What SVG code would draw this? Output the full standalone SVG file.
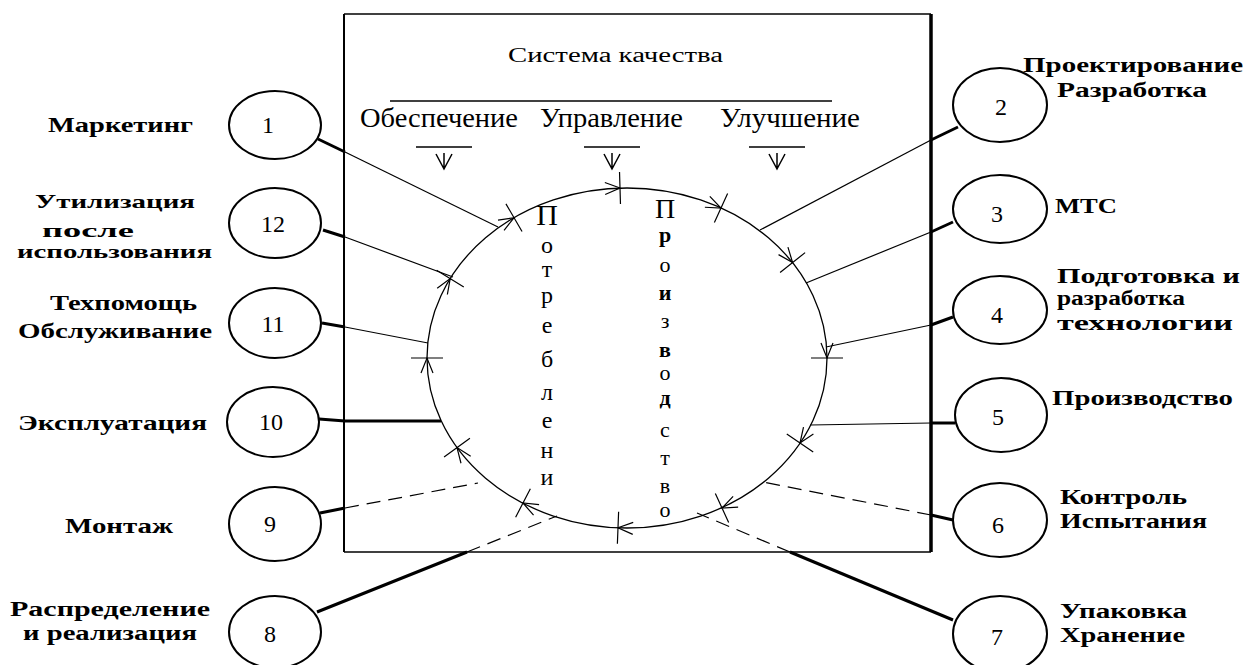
<svg xmlns="http://www.w3.org/2000/svg" xmlns:xlink="http://www.w3.org/1999/xlink" width="1248" height="665" viewBox="0 0 1248 665">
<style>
.ser{font-family:"Liberation Serif","Times New Roman",serif;fill:#000}
.lb{font-family:"Liberation Serif","Times New Roman",serif;font-weight:bold;font-size:22px;fill:#000}
.ls{font-family:"Liberation Serif","Times New Roman",serif;font-weight:bold;font-size:19px;fill:#000}
.lm{font-family:"Liberation Serif","Times New Roman",serif;font-weight:bold;font-size:20px;fill:#000}
.num{font-family:"Liberation Serif","Times New Roman",serif;font-size:24px;fill:#000;text-anchor:middle}
.nd{fill:#fff;stroke:#000;stroke-width:2}
.thk{stroke:#000;stroke-width:3;fill:none}
.thn{stroke:#000;stroke-width:1.2;fill:none}
.dsh{stroke:#000;stroke-width:1.2;fill:none;stroke-dasharray:14 8}
.vl{font-family:"Liberation Serif","Times New Roman",serif;font-size:24px;fill:#000;text-anchor:middle}
.vr{font-family:"Liberation Serif","Times New Roman",serif;font-size:22px;fill:#000;text-anchor:middle}
</style>
<defs>
<path id="tk" d="M0,-16V16M-15,-6L0,0L-15,6" fill="none" stroke="#000" stroke-width="1.2"/>
<path id="dn" d="M-28,0H28M0,6V22M-8,7L0,22L8,7" fill="none" stroke="#000" stroke-width="1.5"/>
</defs>
<rect width="1248" height="665" fill="#fff"/>

<g id="frame">
<line x1="344" y1="14" x2="931" y2="14" stroke="#000" stroke-width="1.5"/>
<line x1="344" y1="14" x2="344" y2="552" stroke="#000" stroke-width="2"/>
<line x1="344" y1="552" x2="931" y2="552" stroke="#000" stroke-width="1.5"/>
<line x1="931" y1="14" x2="931" y2="552" stroke="#000" stroke-width="3.5"/>
<text class="ser" x="508" y="62" font-size="20" textLength="215" lengthAdjust="spacingAndGlyphs" fill="#333">Система качества</text>
<line x1="390" y1="101" x2="832" y2="101" stroke="#000" stroke-width="1.5"/>
<text class="ser" x="360" y="127" font-size="28" textLength="158" lengthAdjust="spacingAndGlyphs">Обеспечение</text>
<text class="ser" x="540" y="127" font-size="28" textLength="143" lengthAdjust="spacingAndGlyphs">Управление</text>
<text class="ser" x="720" y="127" font-size="28" textLength="140" lengthAdjust="spacingAndGlyphs">Улучшение</text>
<use href="#dn" transform="translate(444,147)"/>
<use href="#dn" transform="translate(612,147)"/>
<use href="#dn" transform="translate(777,147)"/>
</g>

<g id="cycle">
<ellipse cx="627" cy="358" rx="200" ry="170" fill="none" stroke="#000" stroke-width="1.3"/>
<use href="#tk" transform="translate(620,188) rotate(-1.7)"/>
<use href="#tk" transform="translate(721,208) rotate(24.4)"/>
<use href="#tk" transform="translate(792.6,262.6) rotate(51.4)"/>
<use href="#tk" transform="translate(827,358) rotate(90)"/>
<use href="#tk" transform="translate(800,443) rotate(124.3)"/>
<use href="#tk" transform="translate(722,508) rotate(155.4)"/>
<use href="#tk" transform="translate(618,527.8) rotate(182.2)"/>
<use href="#tk" transform="translate(523,503) rotate(207.4)"/>
<use href="#tk" transform="translate(457,447.6) rotate(233.9)"/>
<use href="#tk" transform="translate(427,358) rotate(270)"/>
<use href="#tk" transform="translate(450.2,278.6) rotate(-58.1)"/>
<use href="#tk" transform="translate(514,217.7) rotate(-30.2)"/>
<text class="ser" x="547" y="225" font-size="30" text-anchor="middle">П</text>
<text class="vl" x="547" y="253">о</text>
<text class="vl" x="547" y="277">т</text>
<text class="vl" x="547" y="303">р</text>
<text class="vl" x="547" y="333">е</text>
<text class="vl" x="547" y="367">б</text>
<text class="vl" x="547" y="400">л</text>
<text class="vl" x="547" y="428">е</text>
<text class="vl" x="547" y="458">н</text>
<text class="vl" x="547" y="485">и</text>
<text class="ser" x="665" y="218" font-size="28" text-anchor="middle">П</text>
<text class="vr" x="665" y="242" font-weight="bold">р</text>
<text class="vr" x="665" y="272">о</text>
<text class="vr" x="665" y="300" font-weight="bold">и</text>
<text class="vr" x="665" y="328">з</text>
<text class="vr" x="665" y="357" font-weight="bold">в</text>
<text class="vr" x="665" y="380">о</text>
<text class="vr" x="665" y="405" font-weight="bold">д</text>
<text class="vr" x="665" y="437">с</text>
<text class="vr" x="665" y="465">т</text>
<text class="vr" x="665" y="493">в</text>
<text class="vr" x="665" y="517">о</text>
</g>

<g id="connectors">
<path class="thk" d="M318,139L345,152"/><path class="thn" d="M345,152L498,227"/>
<path class="thk" d="M323,230L345,237"/><path class="thn" d="M345,237L453,277"/>
<path class="thk" d="M322,323L345,327"/><path class="thn" d="M345,327L428,343"/>
<path class="thk" d="M319,419L345,421L441,421"/>
<path class="thk" d="M320,513L345,508"/><path class="dsh" d="M345,508L478,483"/>
<path class="thk" d="M317,612L467,552"/><path class="dsh" d="M467,552L557,516"/>
<path class="thk" d="M953,620L790,552"/><path class="dsh" d="M790,552L697,513"/>
<path class="thk" d="M953,520L931,515"/><path class="dsh" d="M931,515L763,482"/>
<path class="thk" d="M955,423L931,423"/><path class="thn" d="M931,423L810,425"/>
<path class="thk" d="M953,317L931,325"/><path class="thn" d="M931,325L826,347"/>
<path class="thk" d="M953,222L931,232"/><path class="thn" d="M931,232L806,283"/>
<path class="thk" d="M958,127L931,140"/><path class="thn" d="M931,140L760,230"/>
</g>

<g id="n1"><ellipse class="nd" cx="275" cy="125" rx="46" ry="34"/><text class="num" x="268" y="133">1</text>
<text class="lb" x="48" y="132" textLength="145" lengthAdjust="spacingAndGlyphs">Маркетинг</text></g>
<g id="n12"><ellipse class="nd" cx="275" cy="223" rx="46" ry="35"/><text class="num" x="273" y="232">12</text>
<text class="ls" x="35" y="208" textLength="160" lengthAdjust="spacingAndGlyphs">Утилизация</text>
<text class="ls" x="42" y="237" textLength="92" lengthAdjust="spacingAndGlyphs">после</text>
<text class="ls" x="17" y="258" textLength="195" lengthAdjust="spacingAndGlyphs">использования</text></g>
<g id="n11"><ellipse class="nd" cx="275" cy="323" rx="46" ry="35"/><text class="num" x="273" y="332">11</text>
<text class="lm" x="50" y="310" textLength="147" lengthAdjust="spacingAndGlyphs">Техпомощь</text>
<text class="lm" x="18" y="338" textLength="194" lengthAdjust="spacingAndGlyphs">Обслуживание</text></g>
<g id="n10"><ellipse class="nd" cx="273" cy="422" rx="46" ry="35"/><text class="num" x="271" y="430">10</text>
<text class="lb" x="18" y="430" textLength="189" lengthAdjust="spacingAndGlyphs">Эксплуатация</text></g>
<g id="n9"><ellipse class="nd" cx="275" cy="524" rx="46" ry="37"/><text class="num" x="270" y="532">9</text>
<text class="lb" x="65" y="533" textLength="108" lengthAdjust="spacingAndGlyphs">Монтаж</text></g>
<g id="n8"><ellipse class="nd" cx="275" cy="632" rx="46" ry="36"/><text class="num" x="270" y="642">8</text>
<text class="lm" x="10" y="616" textLength="200" lengthAdjust="spacingAndGlyphs">Распределение</text>
<text class="lm" x="23" y="640" textLength="174" lengthAdjust="spacingAndGlyphs">и реализация</text></g>

<g id="n2"><ellipse class="nd" cx="1000" cy="105" rx="47" ry="37"/><text class="num" x="1001" y="115">2</text>
<text class="lm" x="1023" y="72" textLength="220" lengthAdjust="spacingAndGlyphs">Проектирование</text>
<text class="lm" x="1057" y="97" textLength="150" lengthAdjust="spacingAndGlyphs">Разработка</text></g>
<g id="n3"><ellipse class="nd" cx="1000" cy="209" rx="47" ry="34"/><text class="num" x="997" y="222">3</text>
<text class="lm" x="1055" y="213" textLength="62" lengthAdjust="spacingAndGlyphs">МТС</text></g>
<g id="n4"><ellipse class="nd" cx="1000" cy="310" rx="47" ry="34"/><text class="num" x="997" y="323">4</text>
<text class="lm" x="1057" y="283" textLength="183" lengthAdjust="spacingAndGlyphs">Подготовка и</text>
<text class="lm" x="1057" y="305" textLength="128" lengthAdjust="spacingAndGlyphs">разработка</text>
<text class="lm" x="1057" y="330" textLength="176" lengthAdjust="spacingAndGlyphs">технологии</text></g>
<g id="n5"><ellipse class="nd" cx="1001" cy="415" rx="46" ry="37"/><text class="num" x="998" y="425">5</text>
<text class="lb" x="1052" y="405" textLength="181" lengthAdjust="spacingAndGlyphs">Производство</text></g>
<g id="n6"><ellipse class="nd" cx="1000" cy="520" rx="47" ry="37"/><text class="num" x="998" y="533">6</text>
<text class="lm" x="1060" y="504" textLength="127" lengthAdjust="spacingAndGlyphs">Контроль</text>
<text class="lm" x="1060" y="528" textLength="147" lengthAdjust="spacingAndGlyphs">Испытания</text></g>
<g id="n7"><ellipse class="nd" cx="1000" cy="634" rx="47" ry="38"/><text class="num" x="997" y="645">7</text>
<text class="lm" x="1060" y="618" textLength="127" lengthAdjust="spacingAndGlyphs">Упаковка</text>
<text class="lm" x="1060" y="642" textLength="125" lengthAdjust="spacingAndGlyphs">Хранение</text></g>
</svg>
